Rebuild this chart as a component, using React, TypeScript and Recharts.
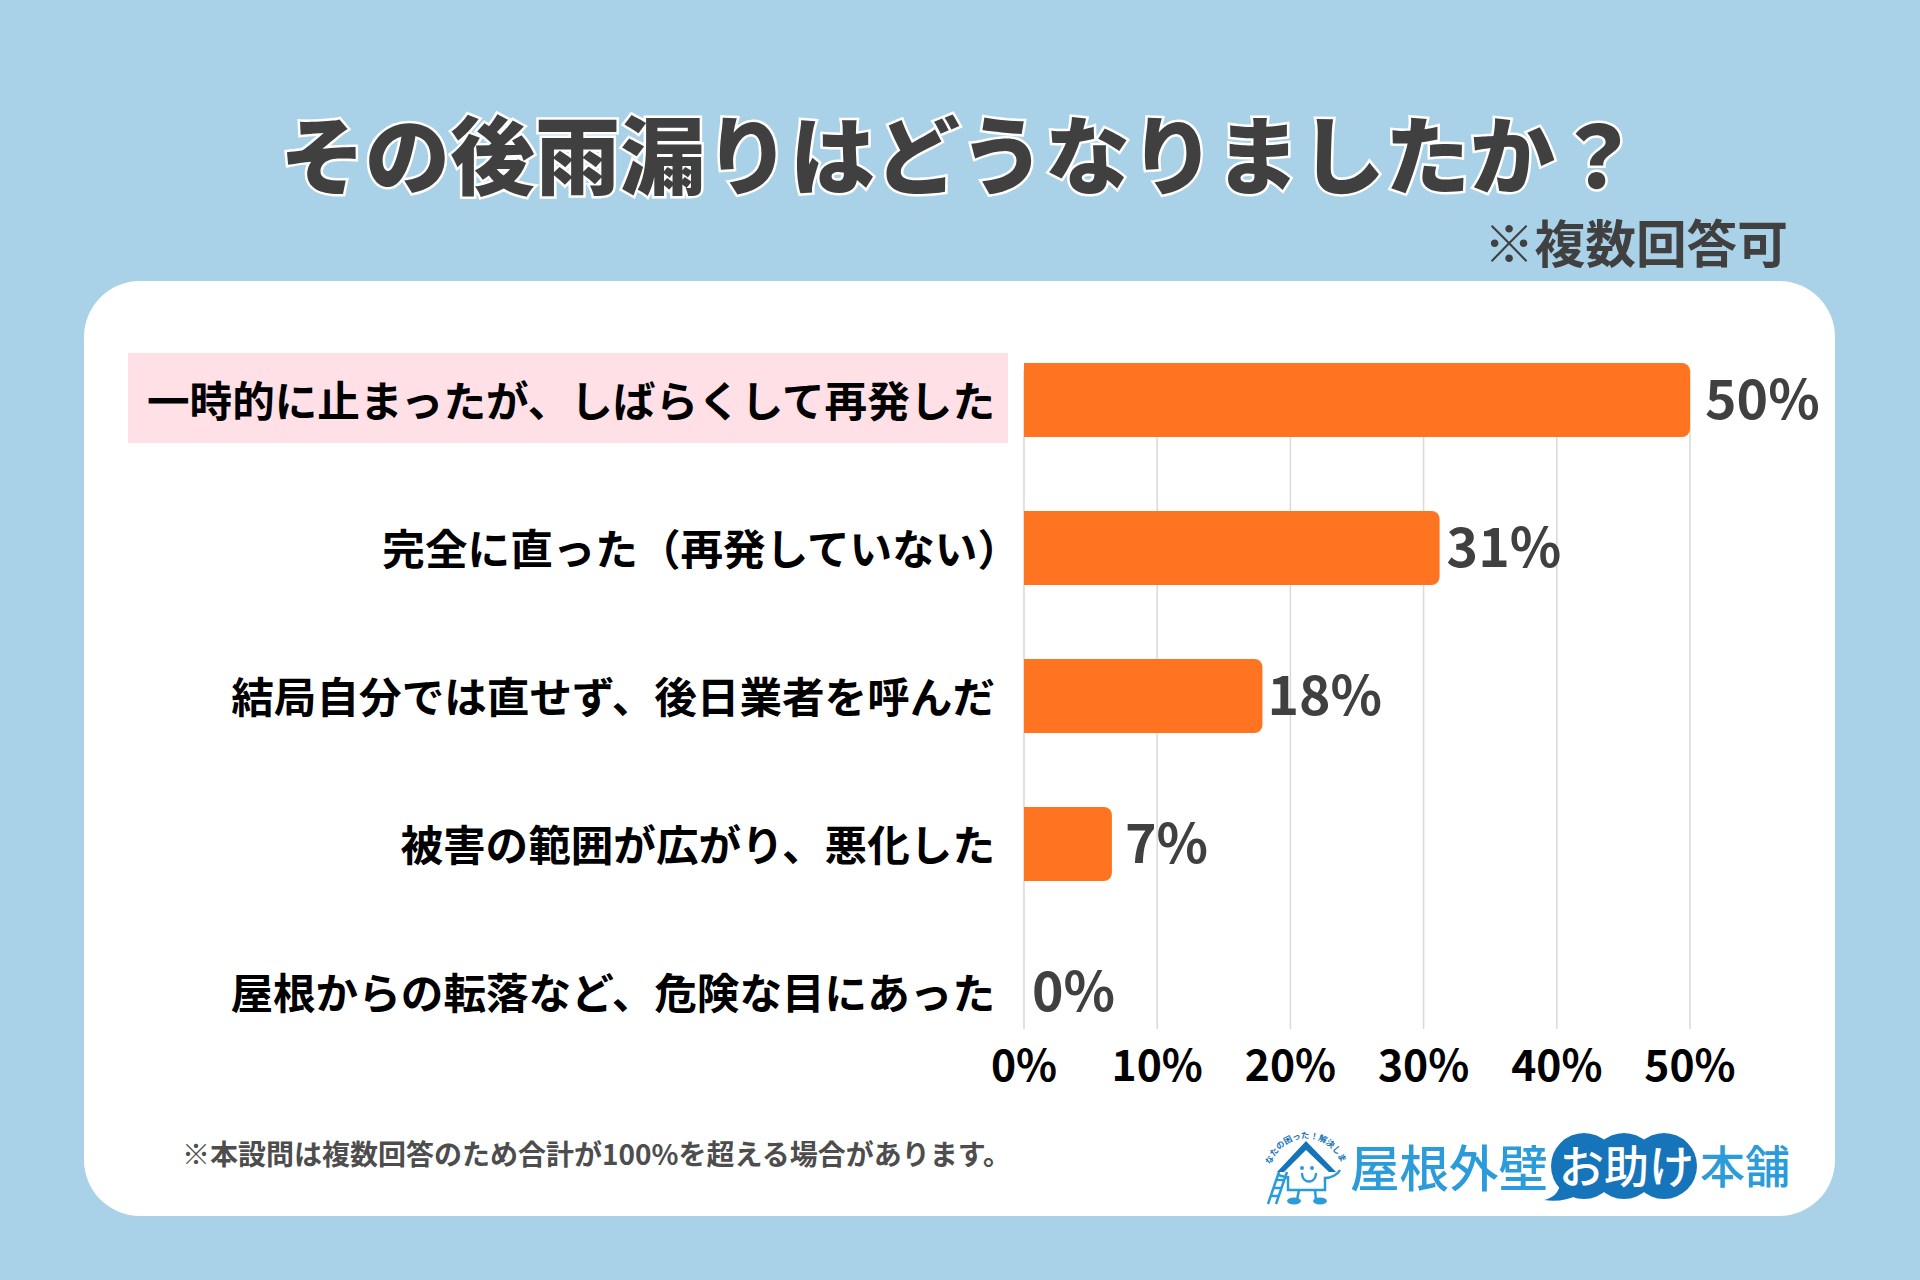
import { BarChart, Bar, XAxis, YAxis, CartesianGrid, LabelList } from "recharts";

const categories = [
  "一時的に止まったが、しばらくして再発した",
  "完全に直った（再発していない）",
  "結局自分では直せず、後日業者を呼んだ",
  "被害の範囲が広がり、悪化した",
  "屋根からの転落など、危険な目にあった",
];
const values = [50, 31.2, 17.9, 6.6, 0];
const valueLabels = ["50%", "31%", "18%", "7%", "0%"];
const xTicks = [0, 10, 20, 30, 40, 50];

const chartData = categories.map((category, i) => ({ category, value: values[i], label: valueLabels[i] }));

const labelGaps = [15, 7, 5, 13, 8];

const FONT = '"Noto Sans CJK JP", "Noto Sans", sans-serif';
const DARK = "#404040";
const SKY = "#2B9BD9";
const NAVY = "#1574BA";

// Category label, the first one gets the pink highlight behind it
const CategoryTick = (props: any) => {
  const { y, payload, index } = props;
  // full-width closing bracket hangs out past the right edge in the reference
  const right = String(payload.value).endsWith("）") ? 1020 : 995;
  return (
    <g>
      {index === 0 && <rect x={128} y={y - 47} width={880} height={90} fill='#FFE0E6' />}
      <text x={right} y={y - 2} textAnchor='end' dominantBaseline='central' fontSize={42.6} fontWeight={700} fill='#000'>
        {payload.value}
      </text>
    </g>
  );
};

const ValueLabel = (props: any) => {
  const { x, y, width, height, index } = props;
  return (
    <text
      x={x + width + labelGaps[index]}
      y={y + height / 2 - 5}
      dominantBaseline='central'
      fontSize={53.5}
      fontWeight={700}
      fill={DARK}
    >
      {valueLabels[index]}
    </text>
  );
};

const Logo = () => (
  <svg width={1920} height={1280} style={{ position: "absolute", left: 0, top: 0 }}>
    <defs>
      <path id='logoArc' d='M1270 1168 A37 37 0 0 1 1342 1166' />
    </defs>
    {/* ladder */}
    <g stroke={SKY} strokeWidth={2.5} fill='none'>
      <path d='M1268 1204 L1279 1172 M1276 1204 L1287 1172 M1271 1196 L1279 1196 M1274 1188 L1282 1188 M1277 1180 L1285 1180' />
      {/* body and arms */}
      <path d='M1288 1176 L1288 1190 L1325 1190 L1325 1178 C1332 1178 1338 1174 1340 1170' />
      <path d='M1289 1178 L1278 1175' />
      <path d='M1299 1190 L1297 1200 M1315 1190 L1316 1200' />
      <path d='M1302 1174 C1303 1184 1315 1184 1316 1174' strokeLinecap='round' />
    </g>
    <path d='M1306 1141 L1336 1172 L1329 1172 L1306 1150 L1284 1172 L1277 1172 Z' fill={NAVY} />
    <circle cx={1302} cy={1168} r={2} fill={SKY} />
    <circle cx={1312} cy={1168} r={2} fill={SKY} />
    <ellipse cx={1294} cy={1201} rx={7} ry={3.5} fill={SKY} />
    <ellipse cx={1320} cy={1201} rx={7} ry={3.5} fill={SKY} />
    <text fontSize={8.4} fontWeight={700} fill={NAVY}>
      <textPath href='#logoArc' startOffset='50%' textAnchor='middle'>
        あなたの困った！解決します
      </textPath>
    </text>

    <text x={1350} y={1187} fontSize={49.5} fontWeight={500} fill={SKY}>屋根外壁</text>
    <circle cx={1584} cy={1166} r={33} fill={NAVY} />
    <circle cx={1624} cy={1166} r={33} fill={NAVY} />
    <circle cx={1664} cy={1166} r={33} fill={NAVY} />
    <path d='M1560 1185 C1558 1194 1552 1198 1544 1200 C1556 1202 1568 1200 1578 1195 Z' fill={NAVY} />
    <text x={1559} y={1184} fontSize={45} fontWeight={500} fill='#fff'>お助け</text>
    <text x={1700} y={1184} fontSize={45} fontWeight={500} fill={SKY}>本舗</text>
  </svg>
);

export default function App() {
  return (
    <div
      style={{
        position: "absolute",
        left: 0,
        top: 0,
        width: 1920,
        height: 1280,
        overflow: "hidden",
        background: "#A9D1E7",
        fontFamily: FONT,
      }}
    >
      <div
        style={{
          position: "absolute",
          left: 84,
          top: 281,
          width: 1751,
          height: 935,
          borderRadius: 56,
          background: "#fff",
        }}
      />
      <svg width={1920} height={280} style={{ position: "absolute", left: 0, top: 0 }}>
        <text
          x={960}
          y={188}
          textAnchor='middle'
          fontSize={85}
          fontWeight={900}
          fill={DARK}
          stroke='#fff'
          strokeWidth={5}
          strokeLinejoin='miter'
          paintOrder='stroke'
        >
          その後雨漏りはどうなりましたか？
        </text>
        <text x={1788} y={263} textAnchor='end' fontSize={50.7} fontWeight={700} fill={DARK}>
          ※複数回答可
        </text>
      </svg>

      <div style={{ position: "absolute", left: 0, top: 0 }}>
        <BarChart
          width={1920}
          height={1280}
          data={chartData}
          layout='vertical'
          margin={{ top: 370, right: 230, bottom: 0, left: 0 }}
          barCategoryGap={0}
          style={{ fontFamily: FONT }}
        >
          <CartesianGrid horizontal={false} stroke='#D9D9D9' strokeWidth={1.5} />
          <XAxis
            type='number'
            dataKey='value'
            domain={[0, 50]}
            ticks={xTicks}
            tickFormatter={(v) => `${v}%`}
            axisLine={false}
            tickLine={false}
            height={251}
            tickMargin={16}
            tick={{ fontSize: 42.6, fontWeight: 700, fill: "#000" }}
            interval={0}
          />
          <YAxis
            type='category'
            dataKey='category'
            width={1024}
            axisLine={false}
            tickLine={false}
            interval={0}
            padding={{ top: -44, bottom: -37 }}
            tick={<CategoryTick />}
          />
          <Bar
            dataKey='value'
            fill='#FF7420'
            barSize={74}
            radius={[0, 8, 8, 0]}
            minPointSize={0.01}
            isAnimationActive={false}
          >
            <LabelList dataKey='label' content={<ValueLabel />} />
          </Bar>
        </BarChart>
      </div>

      <div
        style={{
          position: "absolute",
          left: 182,
          top: 1133,
          fontSize: 28,
          lineHeight: "40px",
          fontWeight: 700,
          color: "#4D4D4D",
          whiteSpace: "nowrap",
        }}
      >
        ※本設問は複数回答のため合計が100%を超える場合があります。
      </div>
      <Logo />
    </div>
  );
}
